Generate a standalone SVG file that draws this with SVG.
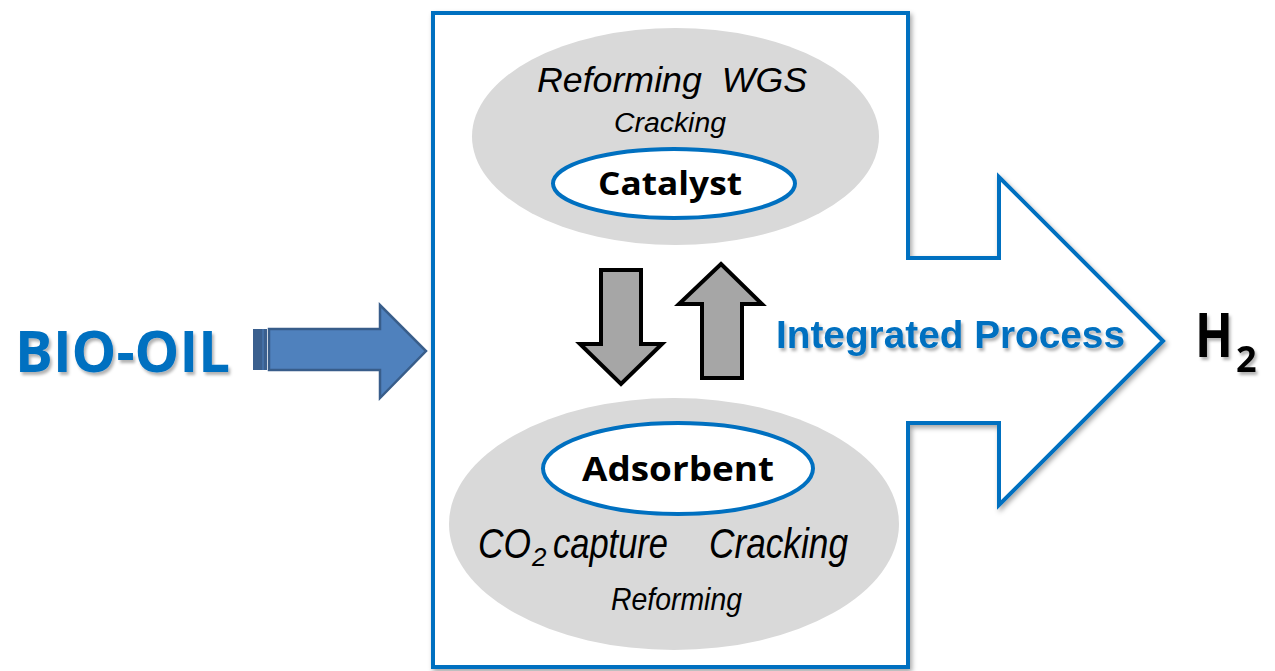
<svg xmlns="http://www.w3.org/2000/svg" width="1275" height="671" viewBox="0 0 1275 671">
<defs>
<filter id="sh" x="-10%" y="-10%" width="130%" height="130%">
<feDropShadow dx="2" dy="3" stdDeviation="2.5" flood-color="#000" flood-opacity="0.35"/>
</filter>
<filter id="tsh" x="-10%" y="-20%" width="130%" height="150%">
<feDropShadow dx="2" dy="3" stdDeviation="1.5" flood-color="#000" flood-opacity="0.3"/>
</filter>
</defs>
<style>
.it{font-family:"Liberation Sans",Arial,sans-serif;font-style:italic;fill:#000}
.bd{font-family:"Open Sans","Liberation Sans",sans-serif;font-weight:700;fill:#000}
.blue{fill:#0070C0}
.gray{fill:#D9D9D9}
.inner{fill:#fff;stroke:#0070C0;stroke-width:4}
.garrow{fill:#A6A6A6;stroke:#000;stroke-width:4;stroke-linejoin:miter}
</style>

<g id="process-frame">
<path d="M433,13 H908 V258 H999 V177 L1163,341 L999,505 V423 H908 V667 H433 Z" fill="#fff" stroke="#0070C0" stroke-width="4" stroke-linejoin="miter" filter="url(#sh)"/>
</g>

<g id="catalyst-zone">
<ellipse cx="675.5" cy="136.5" rx="203.5" ry="108.5" class="gray"/>
<text class="it" x="537" y="92" font-size="35" textLength="270" lengthAdjust="spacingAndGlyphs" xml:space="preserve">Reforming  WGS</text>
<text class="it" x="614" y="132" font-size="27" textLength="112" lengthAdjust="spacingAndGlyphs">Cracking</text>
<ellipse cx="674" cy="183.5" rx="121" ry="34.5" class="inner"/>
<text class="bd" x="598" y="195" font-size="32" textLength="144" lengthAdjust="spacingAndGlyphs">Catalyst</text>
</g>

<g id="adsorbent-zone">
<ellipse cx="674" cy="524" rx="225" ry="126" class="gray"/>
<ellipse cx="678" cy="468.5" rx="135" ry="45.5" class="inner"/>
<text class="bd" x="582" y="481" font-size="34" textLength="192" lengthAdjust="spacingAndGlyphs">Adsorbent</text>
<text class="it" y="558" font-size="42"><tspan x="478" textLength="53" lengthAdjust="spacingAndGlyphs">CO</tspan><tspan x="532" y="566" font-size="26">2</tspan><tspan x="553" y="558" textLength="115" lengthAdjust="spacingAndGlyphs">capture</tspan></text>
<text class="it" x="709" y="558" font-size="42" textLength="139" lengthAdjust="spacingAndGlyphs">Cracking</text>
<text class="it" x="611" y="610" font-size="32" textLength="131" lengthAdjust="spacingAndGlyphs">Reforming</text>
</g>

<g id="connectors">
<g id="feed-arrow">
<rect x="253" y="329" width="14" height="41" fill="#3A5F8E"/>
<line x1="263" y1="329" x2="263" y2="370" stroke="#4F81BD" stroke-width="1"/>
<path d="M269,329 H380 V305 L426,351 L380,398 V370 H269 Z" fill="#4F81BD" stroke="#385D8A" stroke-width="2.5" stroke-linejoin="miter"/>
</g>
<path id="arrow-down" class="garrow" d="M601,270 H641 V344 H662 L621,384 L580,344 H601 Z"/>
<path id="arrow-up" class="garrow" d="M721,264 L762,304 H742 V378 H702 V304 H679 Z"/>
</g>

<g id="bio-oil-label">
<text class="blue" x="15" y="372" font-family="'Open Sans','Liberation Sans',sans-serif" font-weight="700" font-size="57" textLength="215" lengthAdjust="spacingAndGlyphs" filter="url(#tsh)">BIO-OIL</text>
</g>

<g id="integrated-label">
<text class="blue" x="776" y="348" font-family="'Liberation Sans',Arial,sans-serif" font-weight="bold" font-size="38" textLength="349" lengthAdjust="spacingAndGlyphs" filter="url(#tsh)">Integrated Process</text>
</g>

<g id="h2-label" filter="url(#tsh)">
<text class="bd" y="357" font-size="60"><tspan x="1195" textLength="38" lengthAdjust="spacingAndGlyphs">H</tspan><tspan x="1236" y="372" font-size="36">2</tspan></text>
</g>
</svg>
